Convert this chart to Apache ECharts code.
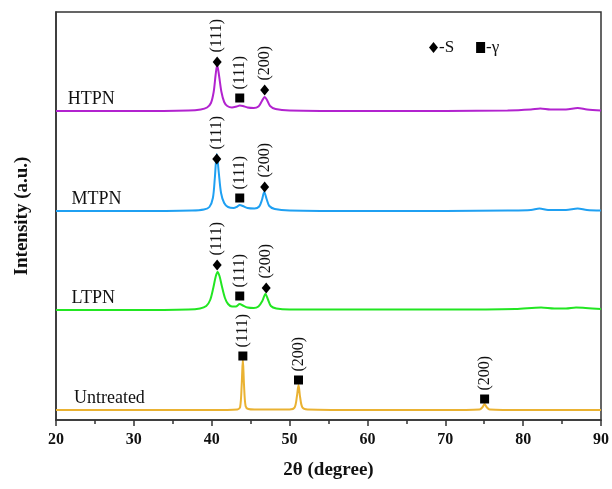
<!DOCTYPE html>
<html>
<head>
<meta charset="utf-8">
<script src="https://cdn.jsdelivr.net/npm/echarts@6/dist/echarts.min.js"></script>
<style>html,body{margin:0;padding:0;background:#fff}#c{width:612px;height:489px}</style>
</head>
<body>
<div id="c"></div>
<script>
// ---- data (2θ in degrees, intensity in a.u.) ----
var sampleNames = ['HTPN', 'MTPN', 'LTPN', 'Untreated'];
var sampleOffsets = [300, 200, 100, 0];
var sampleColors = ['#B223CF', '#1FA0F2', '#22E622', '#EAB232'];

var htpn = [[20,9],[30,9],[37,9.5],[38.6,10.5],[39.4,12.5],[39.9,17],[40.25,28],[40.5,45],[40.7,55],[40.95,44],[41.25,28],[41.6,18],[42,14],[42.6,12.5],[43.2,13.5],[43.6,14.5],[44,14],[44.6,12.5],[45.4,12],[46,13.5],[46.45,19],[46.8,23],[47.1,20],[47.5,14],[48.2,11],[50,9.5],[60,9],[70,9],[78,9.5],[81,10.5],[82.2,11.5],[83.5,10.5],[85.5,10.5],[87,12],[88.2,10.5],[90,9.5]];
var mtpn = [[20,9],[30,9],[37.5,9.5],[39,10.5],[39.7,13],[40.15,22],[40.4,42],[40.65,66],[40.9,48],[41.2,27],[41.6,17],[42.1,13],[42.8,12],[43.3,13.5],[43.6,15],[44,14],[44.6,12],[45.5,11.5],[46.1,13.5],[46.45,20],[46.75,28],[47.05,21],[47.4,14],[48.1,11],[50,9.5],[60,9],[70,9],[78,9.5],[81,10],[82.1,11.5],[83.2,10],[85.5,10],[87,11.5],[88.2,10],[90,9.5]];
var ltpn = [[20,10],[30,10],[37,10.5],[38.5,11.5],[39.3,14],[39.8,20],[40.2,32],[40.5,43],[40.75,48],[41,44],[41.3,34],[41.7,22],[42.1,16],[42.6,13.5],[43.1,13.5],[43.6,16],[44,14.5],[44.6,12.5],[45.4,12],[46,13.5],[46.5,19],[46.9,26],[47.2,21],[47.6,14],[48.3,11.5],[50,10.5],[60,10.5],[70,10.5],[79,11],[82.3,12.5],[84,11.5],[85.5,11.5],[86.8,12.5],[88,12],[90,11]];
var untreated = [[20,10],[30,10],[40,10],[43.3,10.5],[43.65,13],[43.85,35],[44,61],[44.15,35],[44.35,14],[44.7,11],[45.5,10.5],[50,10.5],[50.65,12.5],[50.95,24],[51.15,35],[51.35,23],[51.65,12.5],[52.3,10.5],[60,10],[70,10],[74.4,10.5],[74.8,13],[75.05,16],[75.3,13],[75.7,10.5],[80,10],[90,10]];
var sampleCurves = [htpn, mtpn, ltpn, untreated];

// peak markers: [2θ, intensity, sample index, hkl]
var sPeaks = [[40.7,58,0,'(111)'],[46.8,30,0,'(200)'],[40.65,61,1,'(111)'],[46.8,33,1,'(200)'],[40.7,55,2,'(111)'],[47.0,32,2,'(200)']];
var gammaPeaks = [[43.6,22,0,'(111)'],[43.6,22,1,'(111)'],[43.6,24,2,'(111)'],[44.0,64,3,'(111)'],[51.15,40,3,'(200)'],[75.05,21,3,'(200)']];

// sample label anchors [2θ, intensity]
var nameAnchors = [[21.5,12],[22.0,12],[22.0,13],[22.3,13]];

var xTicksMin = 20, xTicksMax = 90, xTickStep = 10;

// ---- chart ----
var chart = echarts.init(document.getElementById('c'), null, {renderer:'canvas'});
var serif = '"Liberation Serif","Times New Roman",serif';

function shift(arr, off){ return arr.map(function(p){ return [p[0], p[1] + off]; }); }
function markers(list){
  return list.map(function(p){
    return {value:[p[0], p[1] + sampleOffsets[p[2]]], hkl:p[3]};
  });
}

var series = sampleCurves.map(function(c, i){
  return {
    type:'line', name:sampleNames[i], data:shift(c, sampleOffsets[i]),
    showSymbol:false, smooth:0.3, silent:true,
    lineStyle:{color:sampleColors[i], width:2}, z:2
  };
});
var peakLabel = {
  show:true, position:'top', distance:4, rotate:90, align:'left', verticalAlign:'middle',
  fontFamily:serif, fontSize:16, color:'#111',
  formatter:function(p){ return p.data.hkl; }
};
series.push({type:'scatter', name:'-S', symbol:'diamond', symbolSize:[9,11],
  itemStyle:{color:'#000', opacity:1}, data:markers(sPeaks), label:peakLabel, z:5});
series.push({type:'scatter', name:'-γ', symbol:'rect', symbolSize:9,
  itemStyle:{color:'#000', opacity:1}, data:markers(gammaPeaks), label:peakLabel, z:5});

chart.setOption({
  animation:false,
  backgroundColor:'#fff',
  grid:{left:56, right:9, top:12, bottom:69, show:true, borderColor:'#333', borderWidth:1.5},
  legend:{
    left:424, top:34, itemWidth:9, itemHeight:11, itemGap:22,
    data:[{name:'-S', icon:'diamond'},{name:'-γ', icon:'rect'}],
    itemStyle:{color:'#000', opacity:1},
    textStyle:{fontFamily:serif, fontSize:17, color:'#111', padding:[0,0,0,-4]},
    selectedMode:false
  },
  xAxis:{
    type:'value', min:xTicksMin, max:xTicksMax, interval:xTickStep,
    name:'2θ (degree)', nameLocation:'middle', nameGap:41,
    nameTextStyle:{fontFamily:serif, fontSize:19, fontWeight:'bold', color:'#111'},
    axisLine:{lineStyle:{color:'#333', width:1.5}},
    axisTick:{inside:false, length:6, lineStyle:{color:'#333', width:1.5}},
    minorTick:{show:true, splitNumber:2, length:4, lineStyle:{color:'#333', width:1.5}},
    axisLabel:{fontFamily:serif, fontSize:16, fontWeight:'bold', color:'#111', margin:12},
    splitLine:{show:false}
  },
  yAxis:{
    type:'value', min:0, max:408,
    name:'Intensity (a.u.)', nameLocation:'middle', nameGap:24,
    nameTextStyle:{fontFamily:serif, fontSize:19, fontWeight:'bold', color:'#111'},
    axisLine:{show:true, lineStyle:{color:'#333', width:1.5}},
    axisTick:{show:false}, axisLabel:{show:false}, splitLine:{show:false}
  },
  series:series
});

var g = nameAnchors.map(function(a, i){
  var px = chart.convertToPixel({gridIndex:0}, [a[0], a[1] + sampleOffsets[i]]);
  return {type:'text', x:px[0], y:px[1], style:{text:sampleNames[i], fill:'#111',
    font:'18px ' + serif, textAlign:'left', textVerticalAlign:'bottom'}};
});
chart.setOption({graphic:g});
</script>
</body>
</html>
